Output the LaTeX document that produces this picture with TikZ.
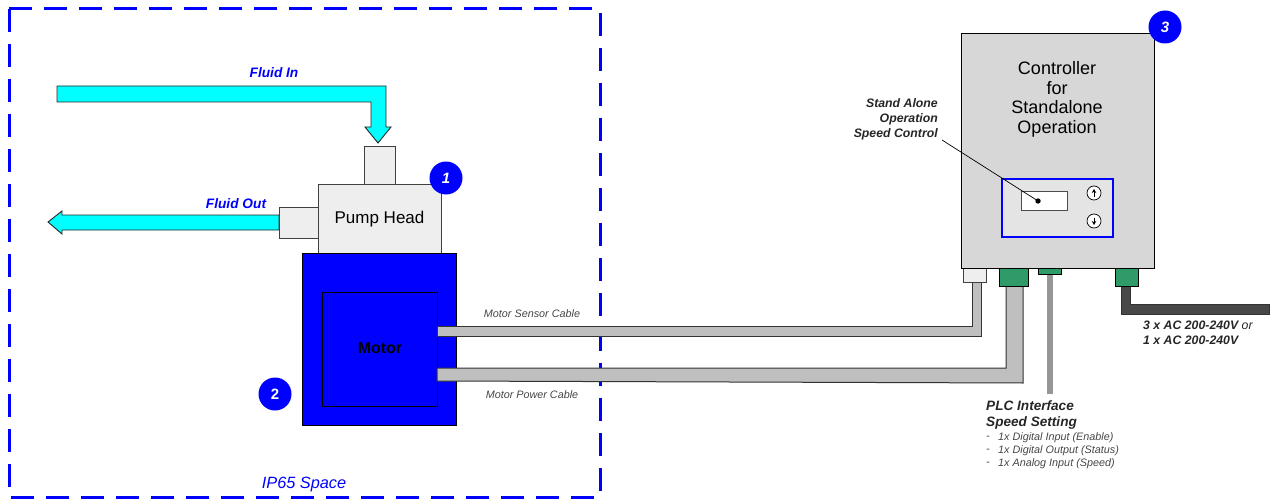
\documentclass[tikz,border=0pt]{standalone}
\usepackage{fontspec}
\setmainfont{Liberation Sans}
\usepackage{xcolor}
\usetikzlibrary{arrows.meta, positioning, calc}
\definecolor{ipblue}{RGB}{0,0,255}
\definecolor{fluidcyan}{RGB}{0,255,255}
\definecolor{plugreen}{RGB}{46,155,105}
\definecolor{stubgray}{RGB}{238,238,238}
\definecolor{cablegray}{RGB}{191,191,191}
\definecolor{ctrlgray}{RGB}{215,215,215}
\definecolor{panelgray}{RGB}{228,228,228}
\definecolor{darkcable}{RGB}{72,72,72}
\definecolor{plcgray}{RGB}{150,150,150}
\definecolor{notegray}{RGB}{70,70,70}
\tikzset{
  stubbox/.style={fill=stubgray, draw=black!75, line width=0.9pt},
  plugbox/.style={fill=plugreen, draw=black, line width=1pt},
  cablebox/.style={fill=cablegray, draw=black!80, line width=1pt},
  fluidflow/.style={fill=fluidcyan, draw=black!85, line width=0.9pt},
  badge/.style={circle, fill=ipblue, text=white, minimum size=33pt, inner sep=0pt,
    font=\fontsize{15}{15}\selectfont\bfseries},
  fluidlabel/.style={text=ipblue, inner sep=0pt, font=\fontsize{13.7}{16}\selectfont\bfseries\itshape},
  cablelabel/.style={text=notegray, inner sep=0pt, font=\fontsize{10.8}{13}\selectfont\itshape},
  notelabel/.style={text=black!85, inner sep=0pt, font=\fontsize{12.3}{15}\selectfont\bfseries\itshape},
  plclabel/.style={text=black!85, inner sep=0pt, anchor=west, font=\fontsize{13.6}{16}\selectfont\bfseries\itshape}
}
\begin{document}
\begin{tikzpicture}[x=1pt, y=-1pt]
\useasboundingbox (0,0) rectangle (1271,500);
\draw[ipblue, line width=3pt, dash pattern=on 23pt off 12pt] (9,9) rectangle (600,497);
\node[text=ipblue, inner sep=0pt, font=\fontsize{16.3}{18}\selectfont\itshape] (ipspace) at (304,484) {IP65 Space};

\draw[fluidflow] (57,86) -- (386,86) -- (386,127) -- (391,127) -- (378,143) -- (365,127)
  -- (371,127) -- (371,102) -- (57,102) -- cycle;
\draw[fluidflow] (48,222) -- (62,211) -- (62,215) -- (279,215) -- (279,230) -- (62,230) -- (62,234) -- cycle;
\node[fluidlabel] (fluidin) at (274,73) {Fluid In};
\node[fluidlabel] (fluidout) at (236,203.5) {Fluid Out};

\draw[stubbox] (364,146) rectangle (395,184);
\draw[stubbox] (279,207) rectangle (318,238);
\draw[stubbox] (318,184) rectangle (441,253);
\node[inner sep=0pt, font=\fontsize{17}{19}\selectfont] (pumphead) at (379.5,219) {Pump Head};

\filldraw[fill=ipblue, draw=black, line width=0.9pt] (302,253) rectangle (456,425);
\filldraw[fill=ipblue, draw=black, line width=0.9pt] (322,292) rectangle (437,406);
\node[inner sep=0pt, font=\fontsize{16}{18}\selectfont\bfseries] (motor) at (380,348) {Motor};

\draw[cablebox] (437,326) -- (972,326) -- (972,282) -- (981,282) -- (981,336) -- (437,336) -- cycle;
\draw[cablebox] (437,368) -- (1006,368) -- (1006,286) -- (1023,286) -- (1023,383) -- (437,381) -- cycle;
\node[cablelabel] (sensorcable) at (532,314) {Motor Sensor Cable};
\node[cablelabel] (powercable) at (532,395) {Motor Power Cable};

\draw[fill=plcgray, draw=none] (1047,274) rectangle (1053,394);
\filldraw[fill=darkcable, draw=black!80, line width=0.8pt] (1121,286) -- (1121,314) -- (1269,314) -- (1269,304)
  -- (1130,304) -- (1130,286) -- cycle;

\draw[stubbox] (963,268) rectangle (986,282);
\draw[plugbox] (999,267) rectangle (1028,286);
\draw[plugbox] (1038,268) rectangle (1061,274);
\draw[plugbox] (1115,268) rectangle (1138,286);

\draw[fill=ctrlgray, draw=black, line width=1pt] (961.5,34) rectangle (1154,268);
\node[align=center, inner sep=0pt, font=\fontsize{18}{19.6}\selectfont] (controller) at (1057,99.5)
  {Controller\\for\\Standalone\\Operation};

\draw[fill=panelgray, draw=ipblue, line width=1.6pt] (1002,179) rectangle (1113,237);
\draw[fill=white, draw=black!70, line width=0.9pt] (1021,191) rectangle (1067,210);
\foreach \name/\by/\ty in {btnup/193/189, btndown/221/225} {
  \node[circle, draw=black, fill=white, minimum size=14pt, inner sep=0pt, line width=0.7pt] (\name) at (1094,\by) {};
  \draw[-{Stealth[length=4pt, width=4.5pt]}, line width=0.8pt] (\name.center) ++(0,{(\by-207)/14*-3.5}) -- (1094,\ty);
}

\node[notelabel, align=right, anchor=east] (speedctrl) at (938,119) {Stand Alone\\Operation\\Speed Control};
\coordinate (leadstart) at (942,140);
\coordinate (leadend) at (1038,201);
\draw[black, line width=0.7pt] (leadstart) -- (leadend);
\fill[black] (leadend) circle (2.7pt);

\node[notelabel, anchor=north west, align=left] (supply) at (1143,320.5)
  {3 x AC 200-240V {\mdseries or}\\1 x AC 200-240V};

\node[plclabel] (plctitle) at (986,406) {PLC Interface};
\node[plclabel] (plcspeed) at (986,423) {Speed Setting};
\foreach \ly/\ltext in {438/1x Digital Input (Enable), 451/1x Digital Output (Status), 464/1x Analog Input (Speed)} {
  \node[cablelabel, anchor=west] at (998,\ly) {\ltext};
  \node[cablelabel, anchor=west] at (986,\ly) {-};
}

\foreach \name/\bx/\by/\num in {badgeone/446/178/\textit{1}, badgetwo/275/394/2, badgethree/1165/27/\textit{3}} {
  \node[badge] (\name) at (\bx,\by) {\num};
}
\end{tikzpicture}
\end{document}
